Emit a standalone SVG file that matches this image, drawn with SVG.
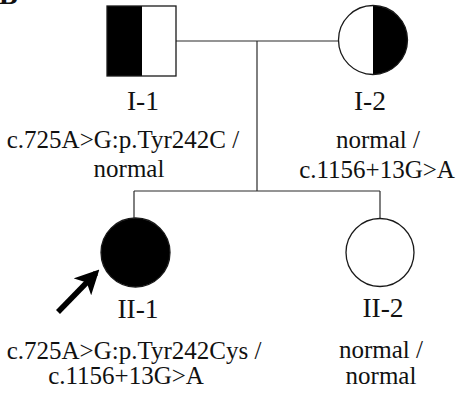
<svg xmlns="http://www.w3.org/2000/svg" width="463" height="393" viewBox="0 0 463 393">
<style>
.sym{stroke:#1a1a1a;stroke-width:1.3;}
.ln{stroke:#2a2a2a;stroke-width:1.2;fill:none;}
.lab{font-family:"Liberation Serif","Times New Roman",serif;font-size:27.5px;fill:#111;text-anchor:middle;}
.gt{font-family:"Liberation Serif","Times New Roman",serif;font-size:25px;fill:#111;text-anchor:middle;}
</style>
<defs>
<marker id="ah" viewBox="0 0 10 10" refX="8" refY="5" markerWidth="4.4" markerHeight="4.4" orient="auto" markerUnits="strokeWidth">
<path d="M0,0 L10,5 L0,10 L2.5,5 Z" fill="#000"/>
</marker>
</defs>
<rect width="463" height="393" fill="#fff"/>
<text x="-1" y="4" font-family="Liberation Serif, serif" font-weight="bold" font-size="28" fill="#111">B</text>
<g id="connectors">
<line class="ln" x1="176" y1="41" x2="338" y2="41"/>
<line class="ln" x1="257" y1="41" x2="257" y2="191"/>
<line class="ln" x1="134" y1="191" x2="380" y2="191"/>
<line class="ln" x1="134" y1="191" x2="134" y2="218"/>
<line class="ln" x1="380" y1="191" x2="380" y2="218"/>
</g>
<g id="I-1">
<rect x="107" y="6" width="35" height="70" fill="#000"/>
<rect class="sym" x="107" y="6" width="69" height="70" fill="none"/>
<text class="lab" x="143" y="110">I-1</text>
<text class="gt" x="123" y="148">c.725A&gt;G:p.Tyr242C /</text>
<text class="gt" x="129" y="177">normal</text>
</g>
<g id="I-2">
<circle cx="373" cy="40" r="34.5" fill="#fff"/>
<path d="M373,5.5 A34.5,34.5 0 0 1 373,74.5 Z" fill="#000"/>
<circle class="sym" cx="373" cy="40" r="34.5" fill="none"/>
<text class="lab" x="370" y="110">I-2</text>
<text class="gt" x="378" y="148">normal /</text>
<text class="gt" x="377" y="178">c.1156+13G&gt;A</text>
</g>
<g id="II-1">
<circle class="sym" cx="135.5" cy="252.5" r="34.5" fill="#000"/>
<text class="lab" x="138" y="318">II-1</text>
<text class="gt" x="134" y="359">c.725A&gt;G:p.Tyr242Cys /</text>
<text class="gt" x="126" y="384">c.1156+13G&gt;A</text>
<line x1="58" y1="312" x2="96" y2="273" stroke="#000" stroke-width="5.5" marker-end="url(#ah)"/>
</g>
<g id="II-2">
<circle class="sym" cx="380" cy="252.5" r="34" fill="#fff"/>
<text class="lab" x="383" y="317">II-2</text>
<text class="gt" x="381" y="358">normal /</text>
<text class="gt" x="381" y="384">normal</text>
</g>
</svg>
